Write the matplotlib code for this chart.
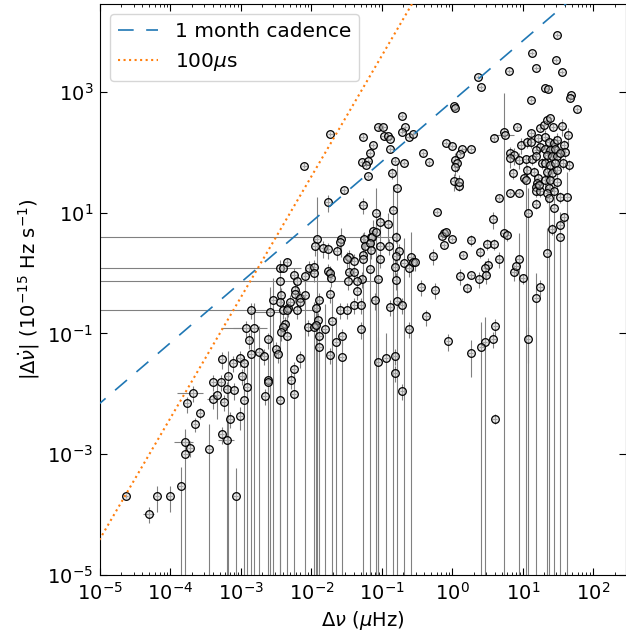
import numpy as np
import matplotlib
matplotlib.use("Agg")
import matplotlib.pyplot as plt
from matplotlib.ticker import LogLocator, NullLocator, FixedLocator

# ---------------- data (log10 values) ----------------
# Group L : low-frequency jumps (Δν < ~3e-3 μHz)
L_lognu = [-2.86, -2.93, -2.81, -2.88, -2.61, -3.27, -3.11, -3.02, -2.95, -2.86,
           -2.75, -2.67, -2.50, -2.47, -3.19, -2.99, -2.62, -2.45, -2.40, -2.35,
           -2.45, -2.43, -2.54, -2.44, -2.40, -2.37, -2.40, -2.43, -2.34, -2.59,
           -2.33, -3.68, -3.77, -3.58, -3.65, -3.80, -3.72, -3.79, -3.45, -3.27,
           -3.20, -3.15, -3.01, -2.95, -3.24, -3.39, -3.34, -3.20, -3.10, -2.92,
           -2.66, -2.45, -2.62, -3.39, -3.29, -3.85, -4.19, -4.01, -4.63, -4.30,
           -3.07]
L_lognudot = [-0.61, -0.91, -0.91, -1.11, -1.10, -1.43, -1.49, -1.40, -1.49, -1.34,
              -1.30, -1.37, -1.25, -1.34, -1.70, -1.70, -1.77, 0.09, 0.09, 0.18,
              -0.14, -0.36, -0.44, -0.48, -0.61, -0.84, -0.90, -0.97, -1.04, -0.64,
              -0.58, -1.98, -2.16, -2.32, -2.50, -2.80, -2.89, -3.00, -2.92, -2.67,
              -2.77, -2.41, -2.37, -2.10, -2.13, -2.09, -2.02, -1.92, -1.94, -1.88,
              -2.03, -2.11, -1.80, -1.80, -1.80, -3.53, -3.69, -3.69, -3.69, -3.99,
              -3.69]
L_relerr_nudot = [0.3, 0.3, 1.6, 0.3, 0.3, 0.3, 0.3, 0.3, 0.3, 1.6,
                  1.6, 0.3, 0.3, 0.3, 1.6, 0.3, 1.6, 0.15, 0.15, 0.15,
                  1.3, 0.3, 1.3, 0.3, 0.3, 0.3, 0.3, 0.3, 1.6, 1.6,
                  0.3, 0.3, 0.3, 0.2, 0.25, 0.3, 0.3, 1.6, 1.6, 0.3,
                  1.6, 0.3, 0.4, 1.6, 0.3, 0.3, 0.6, 0.3, 0.3, 1.6,
                  0.3, 1.6, 0.3, 0.3, 0.3, 1.05, 0.45, 0.45, 0.0, 0.3,
                  1.9]
L_relerr_nu = [0, 0.55, 0.5, 0, 0, 0, 0, 0, 0, 0,
               0, 0, 0, 0, 0, 0, 0, 1.02, 0, 0,
               0, 0, 0, 0, 0, 0, 0, 0, 0, 0.5,
               0, 0.4, 0, 0, 0, 0.3, 0, 0, 0, 0,
               0.25, 0, 0, 0, 0, 0.2, 0, 0, 0, 0,
               0, 0, 0, 0, 0, 0, 0, 0, 0, 0.18,
               0]

# Group M : upper-middle jumps (Δν ~ 1e-2 - 1 μHz, large Δν̇)
M_lognu = [-0.72, -1.06, -0.98, -0.67, -0.71, -1.73, -1.27, -0.97, -0.92, -0.89,
           -0.62, -0.56, -1.13, -1.17, -0.88, -1.28, -1.19, -1.22, -0.82, -0.68,
           -2.10, -0.86, -1.19, -0.79, -1.54, -1.77, -1.27, -0.84, -1.08, -1.02,
           -0.91, -1.12, -1.16, -1.92, -1.58, -0.80, -0.41, -0.33, -0.09, 0.00,
           0.04, 0.06, 0.04, 0.02, 0.10, -0.22, -0.12, 0.00, -0.15]
M_lognudot = [2.60, 2.41, 2.41, 2.41, 2.34, 2.30, 2.26, 2.27, 2.27, 2.22,
              2.26, 2.30, 2.12, 1.99, 2.05, 1.84, 1.85, 1.79, 1.86, 1.82,
              1.78, 1.66, 1.61, 1.41, 1.37, 1.17, 1.13, 1.04, 0.99, 0.84,
              0.81, 0.70, 0.60, 0.57, 0.57, 0.60, 1.98, 1.83, 2.15, 2.10,
              1.87, 1.82, 1.76, 1.52, 1.44, 1.01, 0.66, 0.57, 0.61]
M_relerr_nudot = [0, 0.05, 0.05, 0, 0, 0, 0.1, 0, 0, 0,
                  0, 0, 0, 0, 0.1, 0, 0, 0, 0.1, 0,
                  0, 0.2, 0, 1.6, 0.1, 0.3, 0.3, 1.6, 1.6, 0.5,
                  0.5, 0.5, 0.3, 3.8, 0.5, 0.2, 0, 0, 0, 0,
                  0.3, 0.3, 0.3, 0.3, 0, 0, 0.1, 0, 0.1]
M_relerr_nu = [0, 0, 0, 0, 0, 0, 0, 0, 0, 0,
               0, 0, 0, 0, 0, 0, 0, 0, 0, 0,
               0, 0, 0, 0, 0, 0, 0.15, 0, 0, 0,
               0, 0, 0, 0, 0, 0, 0, 0, 0, 0,
               0, 0, 0, 0, 0, 0, 0, 0, 0]

# Group C : central cloud (Δν ~ 1e-2 - 1 μHz, Δν̇ < 5)
C_lognu = [-1.95, -1.83, -1.77, -1.64, -1.60, -1.26, -1.14, -1.09, -1.24, -1.17,
           -1.15, -1.27, -1.27, -1.03, -1.02, -0.90, -1.47, -1.40, -1.50, -0.76,
           -0.80, -0.81, -0.69, -0.62, -0.59, -0.56, -0.53, -1.17, -1.05, -0.80,
           -1.28, -1.47, -1.39, -1.77, -1.73, -2.04, -1.97, -1.97, -2.09, -1.72,
           -1.48, -1.35, -1.35, -2.25, -2.21, -1.74, -2.23, -2.23, -2.16, -2.16,
           -2.09, -2.30, -1.89, -1.93, -1.10, -1.39, -1.29, -1.60, -1.50, -2.20,
           -2.35, -0.89, -0.78, -0.71, -0.44, -0.25, -0.27, -0.37, -0.62, -1.71,
           -1.91, -2.05, -1.97, -1.93, -1.81, -1.29, -1.57, -1.89, -1.65, -1.89,
           -1.74, -1.57, -2.16, -0.94, -0.81, -0.06, 0.11, -0.09, -0.12, -2.25,
           -2.29, -2.25, -1.06, -0.82, -0.71]
C_lognudot = [0.44, 0.41, 0.39, 0.37, 0.51, 0.56, 0.59, 0.68, 0.45, 0.49,
              0.38, 0.30, 0.24, 0.45, 0.23, 0.45, 0.27, 0.20, 0.23, 0.37,
              0.28, 0.10, 0.17, 0.09, 0.27, 0.18, 0.18, 0.06, -0.10, -0.12,
              -0.10, 0.02, 0.02, 0.03, 0.00, 0.09, 0.10, 0.00, -0.05, -0.08,
              -0.13, -0.14, -0.30, -0.03, -0.13, -0.34, -0.28, -0.34, -0.42, -0.48,
              -0.36, -0.48, -0.44, -0.58, -0.45, -0.53, -0.53, -0.61, -0.61, -0.61,
              -0.61, -0.56, -0.46, -0.53, -0.23, -0.28, 0.28, -0.72, -0.92, -0.79,
              -0.78, -0.89, -0.90, -0.86, -0.92, -0.93, -1.04, -1.04, -1.15, -1.22,
              -1.35, -1.39, -1.41, -1.41, -1.37, -1.13, -0.05, 0.68, 0.46, -1.59,
              -1.77, -2.01, -1.48, -1.65, -1.95]
C_relerr_nudot = [0.3, 0.3, 0.3, 0.3, 0.3, 0.3, 0.3, 0.3, 0.3, 0.3,
                  0.3, 0.3, 1.6, 0.3, 0.3, 0.3, 0.3, 0.3, 0.3, 0.3,
                  0.3, 0.3, 1.6, 0.3, 1.6, 0.3, 0.3, 1.6, 1.6, 0.3,
                  0.3, 0.3, 0.3, 0.3, 0.3, 0.3, 0.3, 0.3, 0.3, 0.3,
                  0.3, 0.3, 0.3, 0.3, 0.3, 0.3, 0.3, 0.3, 0.3, 0.3,
                  1.6, 0.3, 0.3, 0.3, 0.3, 0.3, 0.3, 0.3, 0.3, 0.3,
                  0.3, 0.3, 0.3, 0.3, 0.3, 0.3, 0.3, 0.3, 0.3, 1.6,
                  0.3, 0.3, 1.6, 1.6, 1.6, 0.3, 0.3, 0.3, 1.6, 1.6,
                  0.3, 1.6, 0.3, 1.6, 0.3, 0.3, 0.3, 0.1, 0.1, 0.3,
                  0.3, 1.6, 1.6, 0.3, 0.3]
C_relerr_nu = [0, 0, 0, 0, 0, 0, 1.02, 0, 0, 0,
               0, 0, 0, 0, 0, 0, 0, 0, 0, 0,
               0, 0, 0, 0, 0, 0, 0, 0, 0, 0,
               0, 0, 0, 0, 0, 0, 0, 0, 0, 0,
               0, 1.02, 0, 0, 0, 0, 0, 0, 0, 0,
               0, 0, 0, 0, 0.15, 0, 0, 0, 0, 1.02,
               0, 0, 0, 0, 0, 0, 0, 0, 0, 0,
               0, 0, 0, 0, 0, 0, 0, 0, 0, 0,
               0, 0, 0, 0, 0, 0, 0, 0, 0, 0,
               0, 0, 0, 0, 0]

# Group R : large glitches (Δν > 1 μHz)
R_lognu = [1.49, 1.13, 1.47, 0.81, 1.19, 1.55, 0.37, 0.40, 1.32, 1.36,
           1.69, 1.67, 1.12, 1.77, 0.03, 0.04, 0.73, 0.75, 0.92, 1.12,
           1.25, 1.30, 1.35, 1.38, 1.43, 1.55, 1.64, 0.59, 0.14, 0.27,
           0.11, 0.10, 0.82, 0.87, 0.97, 0.94, 0.82, 1.06, 1.11, 1.22,
           1.24, 1.19, 1.04, 1.13, 1.18, 1.27, 1.16, 1.06, 0.86, 1.01,
           1.04, 1.22, 1.20, 1.18, 1.19, 1.25, 1.23, 1.58, 1.60, 1.65,
           1.57, 0.82, 0.94, 0.66, 1.18, 1.08, 1.53, 1.63, 1.44, 1.58,
           1.53, 1.42, 1.53, 0.58, 0.73, 0.78, 0.26, 0.49, 0.59, 0.39,
           0.15, 1.35, 0.66, 0.94, 0.51, 0.47, 0.48, 0.27, 0.38, 0.21,
           0.87, 0.91, 1.00, 1.25, 1.19, 0.61, 0.58, 0.46, 0.41, 0.26,
           1.07, 0.60]
R_lognudot = [3.94, 3.65, 3.53, 3.34, 3.39, 3.33, 3.25, 3.08, 3.06, 3.04,
              2.94, 2.89, 2.86, 2.71, 2.77, 2.74, 2.34, 2.28, 2.41, 2.32,
              2.40, 2.45, 2.53, 2.56, 2.42, 2.43, 2.28, 2.23, 2.05, 2.05,
              1.97, 1.51, 1.98, 1.95, 2.12, 1.87, 1.90, 2.17, 2.17, 2.23,
              2.09, 2.04, 1.88, 1.88, 1.93, 1.82, 1.68, 1.71, 1.66, 1.57,
              1.54, 1.57, 1.49, 1.43, 1.35, 1.35, 1.46, 2.12, 2.00, 1.79,
              1.82, 1.33, 1.33, 1.25, 1.15, 1.00, 1.26, 1.26, 1.08, 0.92,
              0.79, 0.73, 0.60, 0.89, 0.66, 0.63, 0.55, 0.48, 0.48, 0.35,
              0.30, 0.33, 0.24, 0.24, 0.14, 0.08, -0.03, -0.04, -0.10, -0.24,
              0.02, 0.12, -0.09, -0.23, -0.42, -0.88, -1.09, -1.15, -1.22, -1.32,
              -1.10, -2.41]
R_relerr_nudot = [0, 0, 0, 0, 0, 0, 0, 0, 0, 0,
                  0, 0, 0, 0, 0, 0, 3.4, 0.1, 0, 0.1,
                  0.1, 0.1, 0.1, 0.1, 0.1, 0.3, 0.3, 0, 0, 0,
                  0, 0.3, 0.3, 0.3, 0.3, 0.3, 0.3, 0.2, 0.2, 0.2,
                  0.2, 0.2, 0.2, 0.2, 0.2, 0.2, 0.2, 0.2, 0.2, 0.2,
                  1.6, 0.2, 0.2, 0.2, 0.2, 0.2, 0.2, 0.2, 0.2, 0.2,
                  0.2, 0, 0, 0, 0.2, 1.6, 0.2, 1.6, 1.6, 0.2,
                  0.2, 0.2, 1.6, 0.3, 0.2, 0.2, 0.2, 0.2, 0.2, 0.2,
                  0, 1.6, 0.3, 1.6, 0.3, 0.3, 0.3, 0, 0.3, 0.2,
                  0.3, 0.3, 0.2, 0.3, 1.6, 0.3, 0.3, 1.6, 1.6, 0.6,
                  0.6, 0.2]
R_relerr_nu = [0] * 17 + [0.35] + [0] * 84

# Group K : dense knot of glitches near Δν ~ 25 μHz
K_lognu = [1.32, 1.37, 1.44, 1.49, 1.32, 1.39, 1.46, 1.35, 1.42, 1.49,
           1.53, 1.32, 1.39, 1.46, 1.35, 1.42, 1.49, 1.32, 1.39, 1.49,
           1.37, 1.35, 1.37, 1.44]
K_lognudot = [2.25, 2.17, 2.15, 2.20, 2.06, 2.04, 2.06, 1.95, 1.93, 1.93,
              1.98, 1.82, 1.79, 1.82, 1.68, 1.65, 1.71, 1.54, 1.54, 1.51,
              1.40, 1.32, 1.24, 1.35]
K_relerr_nudot = [0.3, 0.3, 0.3, 0.3, 0.3, 0.3, 0.3, 0.3, 0.3, 0.3,
                  0.3, 0.3, 0.3, 0.3, 0.3, 0.3, 0.3, 0.3, 0.3, 0.3,
                  0.3, 0.3, 1.6, 0.3]
K_relerr_nu = [0] * 24

# smallest measurement uncertainty shown (relative), visible inside markers
min_relerr = 0.08

# reference lines
cadence_coeff = 700.0        # |Δν̇| = k Δν   (1 month cadence)
timing_coeff = 10 ** 5.6     # |Δν̇| = c Δν^2 (100 μs)

x_major = [1e-5, 1e-4, 1e-3, 1e-2, 1e-1, 1e0, 1e1, 1e2]
y_major = [1e-5, 1e-3, 1e-1, 1e1, 1e3]

# ---------------- assemble ----------------
lognu = np.array(L_lognu + M_lognu + C_lognu + R_lognu + K_lognu)
lognudot = np.array(L_lognudot + M_lognudot + C_lognudot + R_lognudot + K_lognudot)
rel_y = np.array(L_relerr_nudot + M_relerr_nudot + C_relerr_nudot + R_relerr_nudot + K_relerr_nudot)
rel_x = np.array(L_relerr_nu + M_relerr_nu + C_relerr_nu + R_relerr_nu + K_relerr_nu, dtype=float)
rel_y = np.maximum(rel_y, min_relerr)
rel_x = np.maximum(rel_x, min_relerr)

dnu = 10 ** lognu
dnudot = 10 ** lognudot
yerr = rel_y * dnudot
xerr = rel_x * dnu

fig = plt.figure(figsize=(6.26, 6.39), dpi=100)
ax = fig.add_axes([100 / 626, 64 / 639, 525.5 / 626, 571 / 639])
ax.set_xscale("log")
ax.set_yscale("log")

ax.errorbar(dnu, dnudot, xerr=xerr, yerr=yerr, fmt="o", ms=5.5,
            mfc=(0.82, 0.82, 0.82, 0.45), mec="k", mew=0.9, ecolor="0.5",
            elinewidth=0.8, capsize=0, zorder=2)

xx = np.logspace(-6, 3, 300)
ax.plot(xx, cadence_coeff * xx, color="#1f77b4", lw=1.2, dashes=(9.4, 7.5),
        label="1 month cadence", zorder=3)
ax.plot(xx, timing_coeff * xx ** 2, color="#ff7f0e", lw=1.5, ls=":",
        label=r"100$\mu$s", zorder=3)

ax.set_xlim(1e-5, 10 ** 2.457)
ax.set_ylim(1e-5, 10 ** 4.454)

ax.xaxis.set_major_locator(FixedLocator(x_major))
ax.xaxis.set_minor_locator(LogLocator(base=10, subs=np.arange(2, 10), numticks=20))
ax.yaxis.set_major_locator(FixedLocator(y_major))
ax.yaxis.set_minor_locator(NullLocator())
ax.tick_params(which="both", direction="in", top=True, right=True, labelsize=14)
ax.tick_params(which="major", length=5, width=0.8)
ax.tick_params(which="minor", length=2.5, width=0.6)
ax.tick_params(axis="y", which="major", pad=5)
ax.tick_params(axis="x", which="major", pad=5)

ax.set_xlabel(r"$\Delta\nu$ ($\mu$Hz)", fontsize=14)
ax.set_ylabel(r"$|\Delta\dot{\nu}|$ ($10^{-15}$ Hz s$^{-1}$)", fontsize=14)

ax.legend(loc="upper left", fontsize=14.5)

fig.savefig("out.png", dpi=100)
